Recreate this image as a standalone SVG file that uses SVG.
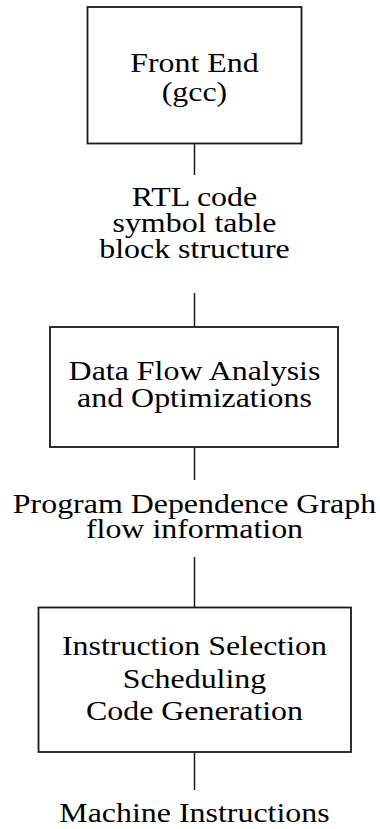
<svg xmlns="http://www.w3.org/2000/svg" width="380" height="829" viewBox="0 0 380 829">
  <style>
    .box { fill: #ffffff; stroke: #1a1a1a; stroke-width: 1.8; }
    .wire { stroke: #1a1a1a; stroke-width: 1.5; fill: none; }
    .wide { transform: scale(1.14, 1); }
    text { font-family: "Liberation Serif", "Times New Roman", serif; font-size: 28px; fill: #000000; text-anchor: middle; }
  </style>
  <rect width="380" height="829" fill="#ffffff"/>

  <g id="connectors">
    <line class="wire" x1="194.5" y1="143.5" x2="194.5" y2="175"/>
    <line class="wire" x1="194.5" y1="293" x2="194.5" y2="327"/>
    <line class="wire" x1="194.5" y1="447" x2="194.5" y2="480"/>
    <line class="wire" x1="194.5" y1="557" x2="194.5" y2="607.5"/>
    <line class="wire" x1="194.5" y1="752" x2="194.5" y2="790"/>
  </g>

  <!-- text is set in a horizontally widened serif; x = 194.5 / 1.14 -->
  <g id="front-end">
    <rect class="box" x="87.5" y="7" width="214" height="136.5"/>
    <g class="wide">
      <text x="170.6" y="72.3">Front End</text>
      <text x="170.6" y="101">(gcc)</text>
    </g>
  </g>

  <g id="rtl-output">
    <g class="wide">
      <text x="170.6" y="206.5">RTL code</text>
      <text x="170.6" y="232.5">symbol table</text>
      <text x="170.6" y="258">block structure</text>
    </g>
  </g>

  <g id="dataflow">
    <rect class="box" x="50" y="327" width="288" height="120"/>
    <g class="wide">
      <text x="170.6" y="380">Data Flow Analysis</text>
      <text x="170.6" y="406.7">and Optimizations</text>
    </g>
  </g>

  <g id="pdg-output">
    <g class="wide">
      <text x="170.6" y="513">Program Dependence Graph</text>
      <text x="170.6" y="538">flow information</text>
    </g>
  </g>

  <g id="backend">
    <rect class="box" x="38.5" y="607.5" width="312.5" height="144.5"/>
    <g class="wide">
      <text x="170.6" y="655">Instruction Selection</text>
      <text x="170.6" y="688">Scheduling</text>
      <text x="170.6" y="720">Code Generation</text>
    </g>
  </g>

  <g id="machine-output">
    <g class="wide">
      <text x="170.6" y="821.7">Machine Instructions</text>
    </g>
  </g>
</svg>
